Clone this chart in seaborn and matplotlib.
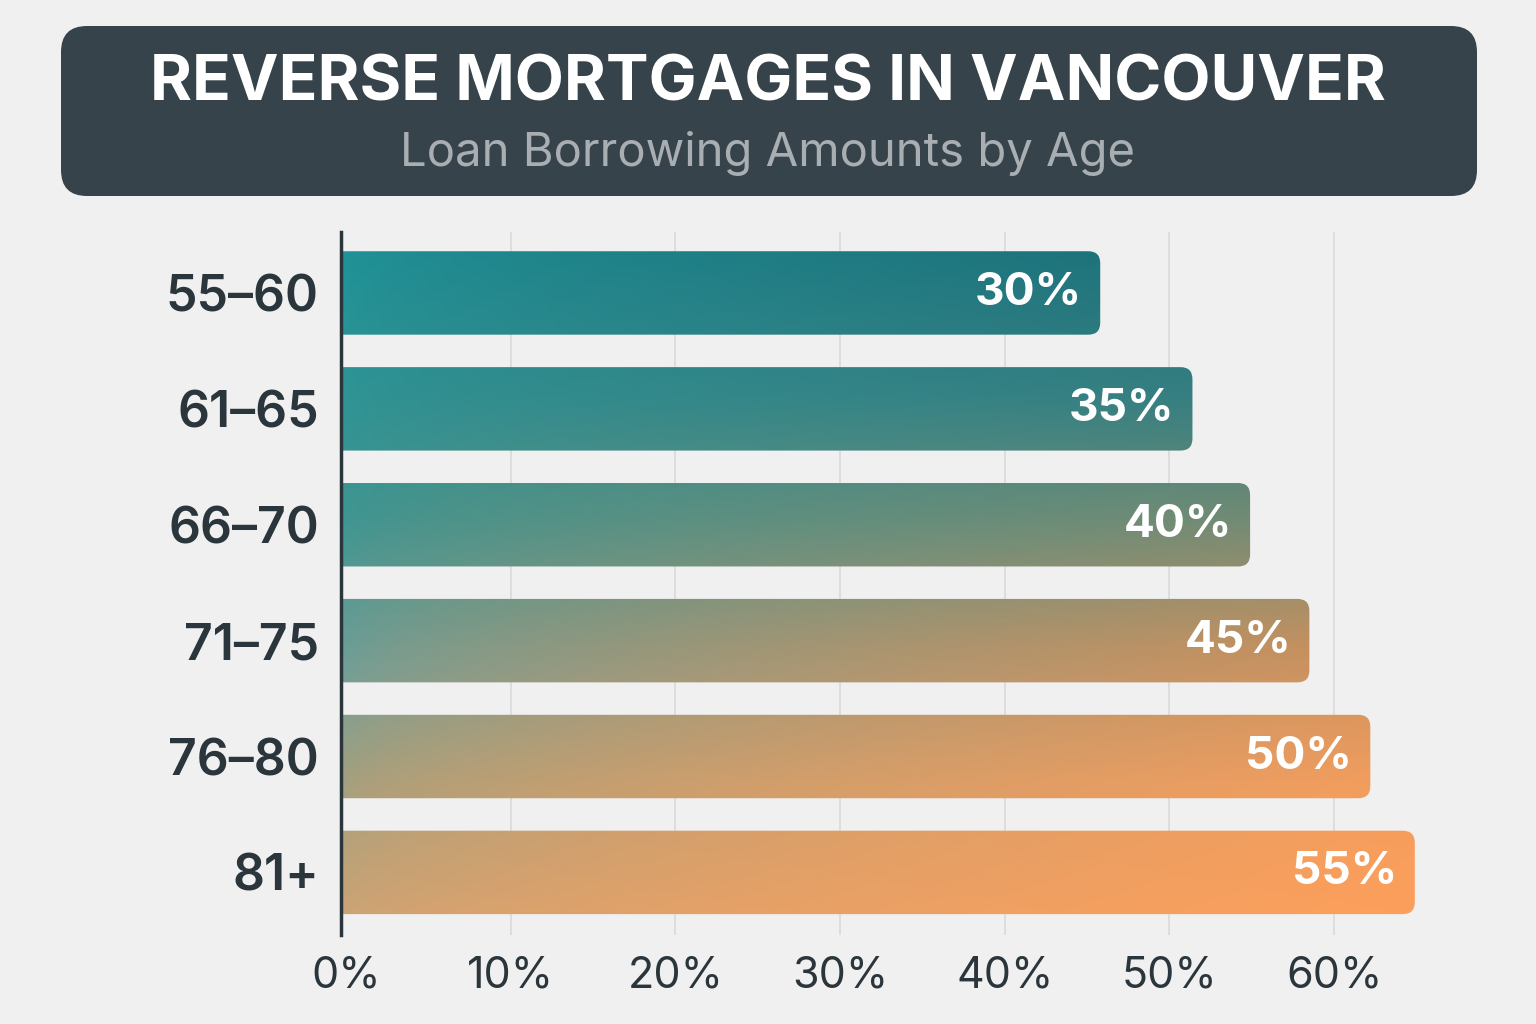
import numpy as np
import pandas as pd
import matplotlib
matplotlib.use("Agg")
from matplotlib import pyplot as plt
from matplotlib.patches import FancyBboxPatch
from matplotlib.colors import LinearSegmentedColormap
import seaborn as sns

# data
age_groups = ["55\u201360", "61\u201365", "66\u201370", "71\u201375", "76\u201380", "81+"]
bar_lengths = [45.8, 51.4, 54.9, 58.5, 62.2, 64.9]   # drawn bar length on the % axis
value_labels = ["30%", "35%", "40%", "45%", "50%", "55%"]
x_ticks = [0, 10, 20, 30, 40, 50, 60]

sns.set_theme(style="white")
plt.rcParams['font.family'] = ['Inter', 'DejaVu Sans']

BG = "#f0f0f0"
DARK = "#2b353c"

fig = plt.figure(figsize=(15.36, 10.24), dpi=100, facecolor=BG)

# header box
hdr = fig.add_axes([0, 0, 1, 1], facecolor="none")
hdr.set_xlim(0, 1536)
hdr.set_ylim(1024, 0)
hdr.axis("off")
hdr.add_patch(FancyBboxPatch((61, 26), 1416, 170, boxstyle="round,pad=0,rounding_size=26",
                             fc="#36434a", ec="none"))
hdr.text(768, 84, "REVERSE MORTGAGES IN VANCOUVER", ha="center", va="center",
         color="white", fontsize=46, fontweight="bold")
hdr.text(768, 153, "Loan Borrowing Amounts by Age", ha="center", va="center",
         color="#a9aeb2", fontsize=34)

ax = fig.add_axes([341 / 1536, (1024 - 935) / 1024, 1139 / 1536, 703 / 1024])
ax.set_facecolor("none")
df = pd.DataFrame({"age": age_groups, "length": bar_lengths})
sns.barplot(data=df, x="length", y="age", orient="h", width=0.72, ax=ax,
            color="#888888")

x0, x1 = -0.3, 68.86
y_bot, y_top = 5.54, -0.526

# gradient: left-edge colours and right-edge colours, blended across x
left_cm = LinearSegmentedColormap.from_list("left", [
    (0.0, "#1f9499"), (0.4, "#3c9693"), (0.63, "#6f9f98"), (0.8, "#a2a07f"), (1.0, "#caa476")])
right_cm = LinearSegmentedColormap.from_list("right", [
    (0.0, "#1d6b74"), (0.22, "#377b7e"), (0.41, "#7a8a70"), (0.6, "#cc905c"),
    (0.8, "#f49d5d"), (1.0, "#fe9f5b")])
nx, ny = 400, 300
xn = (np.linspace(0, 1, nx) ** 0.6)[None, :, None]
yn = np.linspace(0, 1, ny)
rgb = (1 - xn) * left_cm(yn)[:, None, :3] + xn * right_cm(yn)[:, None, :3]
img_ext = [x0, max(bar_lengths) + 0.5, 5.4, -0.4]

px_x = 1139 / (x1 - x0)
px_y = 703 / (y_bot - y_top)
rad = 12 / px_x
for bar, lab in zip(list(ax.patches), value_labels):
    bx, by = bar.get_x(), bar.get_y()
    bw, bh = bar.get_width(), bar.get_height()
    bar.set_visible(False)
    shape = FancyBboxPatch((x0 - 2 * rad, by), bw - x0 + 2 * rad, bh,
                           boxstyle=f"round,pad=0,rounding_size={rad}",
                           mutation_aspect=px_x / px_y, fc="none", ec="none")
    ax.add_patch(shape)
    im = ax.imshow(rgb, extent=img_ext, aspect="auto", interpolation="bilinear", zorder=2)
    im.set_clip_path(shape)
    ax.text(bx + bw - 18 / px_x, by + bh / 2, lab, ha="right", va="center",
            color="white", fontsize=33, fontweight="bold", zorder=4)

ax.set_aspect("auto")
ax.set_xlim(x0, x1)
ax.set_ylim(y_bot, y_top)

for xt in x_ticks[1:]:
    ax.axvline(xt, color="#dadada", lw=1.2, zorder=0)

ax.set_xticks(x_ticks)
ax.set_xticklabels([f"{t}%" for t in x_ticks])
ax.tick_params(axis="x", length=0, pad=15, labelsize=31, labelcolor=DARK)
ax.tick_params(axis="y", length=0, pad=16, labelsize=36, labelcolor=DARK)
for t in ax.get_yticklabels():
    t.set_fontweight("semibold")
ax.set_xlabel("")
ax.set_ylabel("")
sns.despine(ax=ax, top=True, right=True, bottom=True)
ax.spines["left"].set_color(DARK)
ax.spines["left"].set_linewidth(2.5)
ax.spines["left"].set_zorder(5)
ax.grid(False)

plt.savefig("out.png", dpi=100, facecolor=BG)
